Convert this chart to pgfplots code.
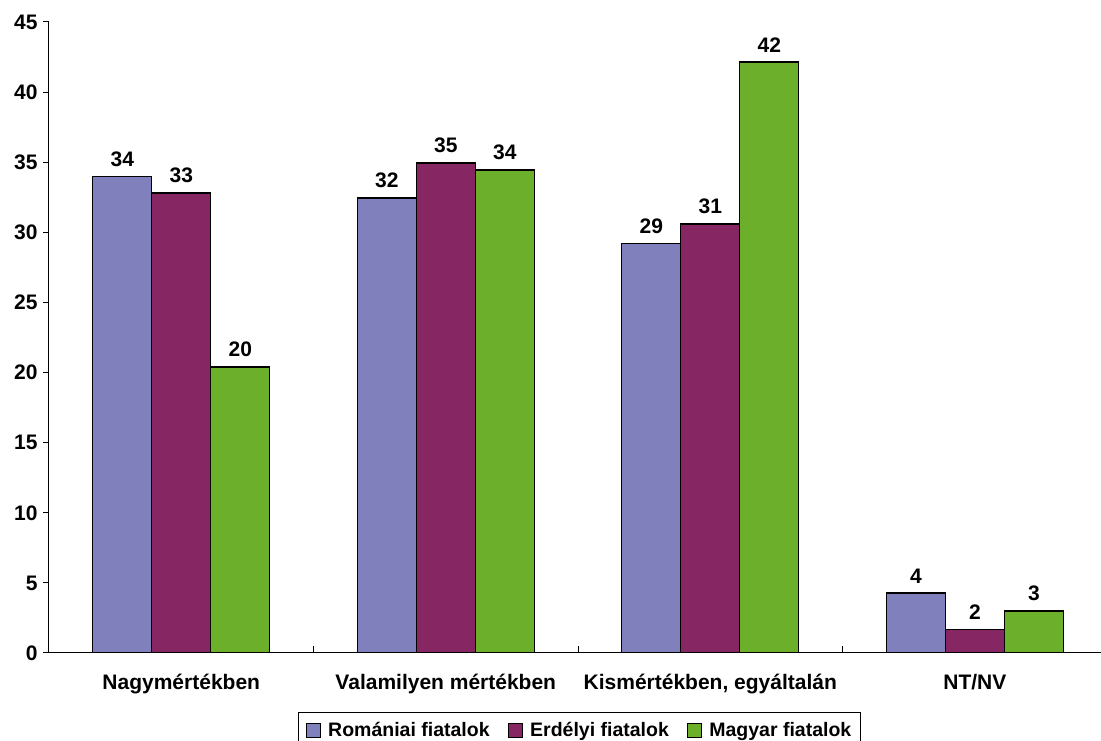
\documentclass[border=0pt]{standalone}
\usepackage{fontspec}
\setmainfont{Liberation Sans}
\usepackage{pgfplots}
\pgfplotsset{compat=1.18}
\definecolor{cRo}{RGB}{128,128,189}
\definecolor{cEr}{RGB}{134,38,98}
\definecolor{cMa}{RGB}{107,175,43}
\pgfplotsset{sqlegend/.style={legend image code/.code={\draw[##1, line width=1pt] (0pt,-7.5pt) rectangle (14.5pt,7pt);}}}
\begin{document}
\begin{tikzpicture}[x=1pt,y=1pt]
\useasboundingbox (-49,-88) rectangle (1052,653);
\begin{axis}[
  at={(0,0)}, anchor=south west,
  scale only axis, width=1052pt, height=631pt,
  xmin=-0.5, xmax=3.477, ymin=0, ymax=45,
  ybar=0pt, bar width=59pt,
  axis x line*=bottom, axis y line*=left,
  axis line style={line width=1pt, black},
  ytick={0,5,...,45},
  tick align=outside, major tick length=6pt,
  /pgf/number format/assume math mode=true,
  xtick={0,1,2,3},
  xticklabels={Nagymértékben, Valamilyen mértékben, {Kismértékben, egyáltalán}, NT/NV},
  major x tick style={draw=none},
  minor xtick={0.5,1.5,2.5},
  minor tick length=7pt,
  minor x tick style={yshift=7pt, line width=1pt, black},
  y tick style={line width=1pt, black},
  yticklabel style={font=\bfseries\fontsize{21}{25}\selectfont, xshift=-2pt},
  xticklabel style={font=\bfseries\fontsize{21}{25}\selectfont, text height=15pt, text depth=5pt, yshift=-12pt},
  point meta=explicit symbolic,
  nodes near coords,
  nodes near coords style={font=\bfseries\fontsize{21}{25}\selectfont, yshift=6pt, black},
  every axis plot/.append style={draw=black, line width=1.2pt},
  legend style={at={(axis description cs:0.5043,-0.0935)}, anchor=north,
    legend columns=-1, draw=black, line width=0.8pt,
    font=\bfseries\fontsize{19.5}{23}\selectfont, inner xsep=7pt, inner ysep=8pt,
    /tikz/every odd column/.append style={column sep=5pt},
    /tikz/every even column/.append style={column sep=16pt}},
]
\addplot[fill=cRo, sqlegend] coordinates {(0,34.0) [34] (1,32.45) [32] (2,29.2) [29] (3,4.28) [4]};
\addplot[fill=cEr, sqlegend] coordinates {(0,32.8) [33] (1,34.95) [35] (2,30.6) [31] (3,1.7) [2]};
\addplot[fill=cMa, sqlegend] coordinates {(0,20.4) [20] (1,34.45) [34] (2,42.15) [42] (3,3.0) [3]};
\legend{Romániai fiatalok, Erdélyi fiatalok, Magyar fiatalok}
\end{axis}
\end{tikzpicture}
\end{document}
